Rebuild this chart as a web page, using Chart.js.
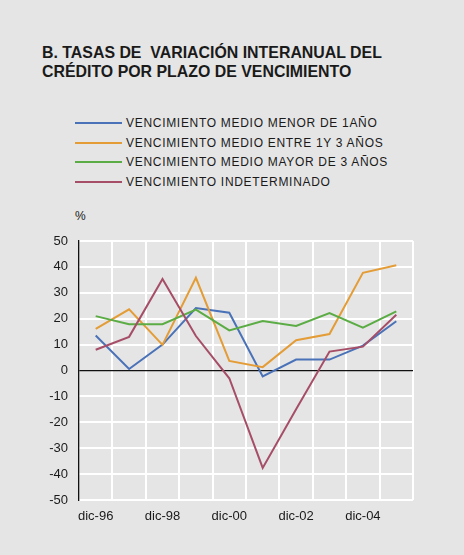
<!DOCTYPE html>
<html>
<head>
<meta charset="utf-8">
<script src="https://cdn.jsdelivr.net/npm/chart.js@4/dist/chart.umd.min.js"></script>
<style>
  html, body { margin: 0; padding: 0; background: #e5e5e5; }
  body { width: 464px; height: 555px; position: relative; overflow: hidden; font-family: "Liberation Sans", Arial, sans-serif; color: #1a1a1a; }
  .title { position: absolute; left: 42px; top: 43px; font-weight: bold; font-size: 15.9px; line-height: 19px; white-space: pre; }
  .legend { position: absolute; left: 75px; top: 113px; }
  .legend .row { height: 19.7px; display: flex; align-items: center; font-size: 12px; letter-spacing: 0.7px; white-space: pre; }
  .legend .swatch { width: 47px; height: 2px; margin-right: 4px; }
  .unit { position: absolute; left: 75px; top: 209px; font-size: 12px; }
  #wrap { position: absolute; left: 0; top: 200px; width: 464px; height: 340px; }
</style>
</head>
<body>
<div class="title">B. TASAS DE  VARIACIÓN INTERANUAL DEL
CRÉDITO POR PLAZO DE VENCIMIENTO</div>
<div class="legend" id="legend"></div>
<div class="unit">%</div>
<div id="wrap"><canvas id="chart" width="464" height="340"></canvas></div>
<script>
// Annual rates, December of each year (%)
const labels = ['dic-96', 'dic-97', 'dic-98', 'dic-99', 'dic-00', 'dic-01', 'dic-02', 'dic-03', 'dic-04', 'dic-05'];
const menor1 = [13.5, 0.6, 10.0, 24.1, 22.3, -2.3, 4.2, 4.2, 9.6, 19.0];
const entre1y3 = [16.1, 23.6, 9.9, 35.8, 3.7, 1.3, 11.7, 14.1, 37.7, 40.6];
const mayor3 = [21.0, 17.9, 17.9, 23.5, 15.5, 19.1, 17.2, 22.2, 16.5, 22.8];
const indeterminado = [8.0, 13.0, 35.3, 13.3, -3.0, -37.6, -15.0, 7.3, 9.2, 21.5];
const yTicks = [50, 40, 30, 20, 10, 0, -10, -20, -30, -40, -50];

const series = [
  { label: 'VENCIMIENTO MEDIO MENOR DE 1AÑO', data: menor1, color: '#4a72b8' },
  { label: 'VENCIMIENTO MEDIO ENTRE 1Y 3 AÑOS', data: entre1y3, color: '#e49c36' },
  { label: 'VENCIMIENTO MEDIO MAYOR DE 3 AÑOS', data: mayor3, color: '#5bac44' },
  { label: 'VENCIMIENTO INDETERMINADO', data: indeterminado, color: '#a64d67' },
];

document.getElementById('legend').innerHTML = series.map(s =>
  `<div class="row"><span class="swatch" style="background:${s.color}"></span>${s.label}</div>`
).join('');

const tickFont = { family: '"Liberation Sans", Arial, sans-serif', size: 13 };

new Chart(document.getElementById('chart').getContext('2d'), {
  type: 'line',
  data: {
    labels,
    datasets: series.map((s, i) => ({
      label: s.label,
      data: s.data,
      borderColor: s.color,
      backgroundColor: s.color,
      borderWidth: 2,
      pointRadius: 0,
      tension: 0,
      fill: false,
      order: series.length - i,
    })),
  },
  options: {
    responsive: false,
    animation: false,
    layout: { padding: { left: 0, right: 51, top: 41, bottom: 0 } },
    plugins: { legend: { display: false }, tooltip: { enabled: false } },
    scales: {
      x: {
        offset: true,
        grid: {
          offset: true,
          drawTicks: false,
          lineWidth: 2,
          color: ctx => (ctx.index === 0 ? 'rgba(0,0,0,0)' : '#ffffff'),
        },
        border: { display: false },
        ticks: {
          color: '#1a1a1a',
          font: tickFont,
          padding: 9,
          autoSkip: false,
          maxRotation: 0,
          callback: (v, i) => (i % 2 === 0 ? labels[i] : ''),
        },
        afterFit: s => { s.height = 40; },
      },
      y: {
        min: -50,
        max: 50,
        afterBuildTicks: s => { s.ticks = yTicks.map(v => ({ value: v })); },
        grid: {
          drawTicks: false,
          lineWidth: ctx => (ctx.tick && ctx.tick.value === 0 ? 1.3 : 2),
          color: ctx => (ctx.tick && ctx.tick.value === 0 ? '#111111' : '#ffffff'),
        },
        border: { display: true, color: '#111111', width: 1.3 },
        ticks: { color: '#1a1a1a', font: tickFont, padding: 11 },
        afterFit: s => { s.width = 79; },
      },
    },
  },
});
</script>
</body>
</html>
